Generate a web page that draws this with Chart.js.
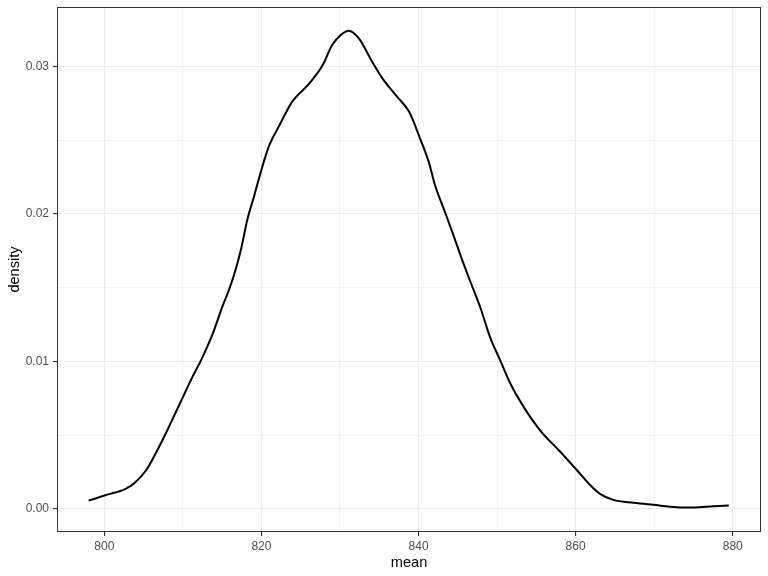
<!DOCTYPE html>
<html>
<head>
<meta charset="utf-8">
<title>density of mean</title>
<script src="https://cdn.jsdelivr.net/npm/chart.js@4/dist/chart.umd.min.js"></script>
<style>
  html, body { margin: 0; padding: 0; background: #fff; }
  canvas { display: block; }
</style>
</head>
<body>
<canvas id="densityChart" width="768" height="576"></canvas>
<script>
// values
const meanValues = [
  798.0, 800.0, 802.7, 803.8, 805.3, 806.5, 807.8, 808.9, 810.0, 811.2,
  812.5, 813.8, 815.0, 815.9, 816.7, 817.4, 818.2, 819.1, 820.0, 821.0,
  822.3, 823.9, 826.1, 827.8, 829.0, 830.1, 831.1, 832.4, 834.1, 835.4,
  837.1, 838.8, 840.2, 841.3, 842.1, 843.2, 844.3, 845.4, 846.6, 847.9,
  849.1, 850.4, 851.7, 853.4, 855.5, 858.1, 860.2, 861.9, 863.1, 864.8,
  867.4, 869.9, 872.9, 875.0, 877.6, 879.5
];
const densityValues = [
  0.00056, 0.0009, 0.00136, 0.00174, 0.0026, 0.00373, 0.00509, 0.00633, 0.00758, 0.00893,
  0.01029, 0.01188, 0.01368, 0.01490, 0.01620, 0.01760, 0.01960, 0.02127, 0.02300, 0.02466,
  0.02602, 0.0276, 0.02885, 0.03009, 0.03145, 0.03213, 0.03242, 0.0319, 0.03031, 0.02919,
  0.02805, 0.02692, 0.02511, 0.02353, 0.02194, 0.02036, 0.01877, 0.0171, 0.01540, 0.01360,
  0.01165, 0.01007, 0.00848, 0.0069, 0.00531, 0.00384, 0.0026, 0.00158, 0.00102, 0.00061,
  0.00041, 0.00027, 0.00011, 0.00009, 0.00018, 0.00022
];

// axis ticks (major labelled, minor only as grid lines)
const xMajorTicks = [800, 820, 840, 860, 880];
const xMinorTicks = [810, 830, 850, 870];
const yMajorTicks = [0, 0.01, 0.02, 0.03];
const yMinorTicks = [0.005, 0.015, 0.025];
const xTitle = 'mean';
const yTitle = 'density';

(function () {
  'use strict';

  const gridColor = '#EBEBEB';
  const inkColor = '#333333';
  const tickText = '#4D4D4D';
  const fontFamily = '"Liberation Sans", Arial, sans-serif';

  function isMajor(list, v) {
    return list.some(t => Math.abs(t - v) < 1e-9);
  }

  // replace auto ticks with the fixed major + minor set
  function setTicks(major, minor) {
    return function (scale) {
      scale.ticks = major.concat(minor).sort((a, b) => a - b).map(v => ({ value: v }));
    };
  }

  // draw the dark panel frame like theme_bw
  const panelBorder = {
    id: 'panelBorder',
    afterDatasetsDraw(chart) {
      const { ctx, chartArea: a } = chart;
      ctx.save();
      ctx.strokeStyle = inkColor;
      ctx.lineWidth = 1;
      ctx.strokeRect(a.left + 0.5, a.top + 0.5, a.right - a.left - 1, a.bottom - a.top - 1);
      ctx.restore();
    }
  };

  const points = meanValues.map((m, i) => ({ x: m, y: densityValues[i] }));

  new Chart(document.getElementById('densityChart'), {
    type: 'line',
    data: {
      datasets: [{
        data: points,
        borderColor: '#000000',
        borderWidth: 2,
        pointRadius: 0,
        fill: false,
        cubicInterpolationMode: 'monotone'
      }]
    },
    options: {
      responsive: false,
      animation: false,
      layout: { padding: { top: 7, right: 7, left: 0, bottom: 0 } },
      plugins: {
        legend: { display: false },
        tooltip: { enabled: false }
      },
      scales: {
        x: {
          type: 'linear',
          min: 793.97,
          max: 883.6,
          afterBuildTicks: setTicks(xMajorTicks, xMinorTicks),
          afterFit(scale) {
            scale.height = 44;
            scale.paddingLeft = 0;
            scale.paddingRight = 0;
          },
          border: { display: false },
          grid: {
            color: gridColor,
            lineWidth: ctx => isMajor(xMajorTicks, ctx.tick.value) ? 1.1 : 0.6,
            tickLength: 4,
            tickColor: ctx => isMajor(xMajorTicks, ctx.tick.value) ? inkColor : 'rgba(0,0,0,0)'
          },
          ticks: {
            autoSkip: false,
            maxRotation: 0,
            padding: 3,
            color: tickText,
            font: { family: fontFamily, size: 12 },
            callback: v => isMajor(xMajorTicks, v) ? String(v) : ''
          },
          title: {
            display: true,
            text: xTitle,
            color: '#000000',
            font: { family: fontFamily, size: 14.6 },
            padding: { top: 0, bottom: 4 }
          }
        },
        y: {
          type: 'linear',
          min: -0.00157,
          max: 0.03403,
          afterBuildTicks: setTicks(yMajorTicks, yMinorTicks),
          afterFit(scale) {
            scale.width = 57;
            scale.paddingTop = 0;
            scale.paddingBottom = 0;
          },
          border: { display: false },
          grid: {
            color: gridColor,
            lineWidth: ctx => isMajor(yMajorTicks, ctx.tick.value) ? 1.1 : 0.6,
            tickLength: 4,
            tickColor: ctx => isMajor(yMajorTicks, ctx.tick.value) ? inkColor : 'rgba(0,0,0,0)'
          },
          ticks: {
            autoSkip: false,
            padding: 4,
            color: tickText,
            font: { family: fontFamily, size: 12 },
            callback: v => isMajor(yMajorTicks, v) ? v.toFixed(2) : ''
          },
          title: {
            display: true,
            text: yTitle,
            color: '#000000',
            font: { family: fontFamily, size: 14.6 },
            padding: { top: 6, bottom: 0 }
          }
        }
      }
    },
    plugins: [panelBorder]
  });
})();
</script>
</body>
</html>
